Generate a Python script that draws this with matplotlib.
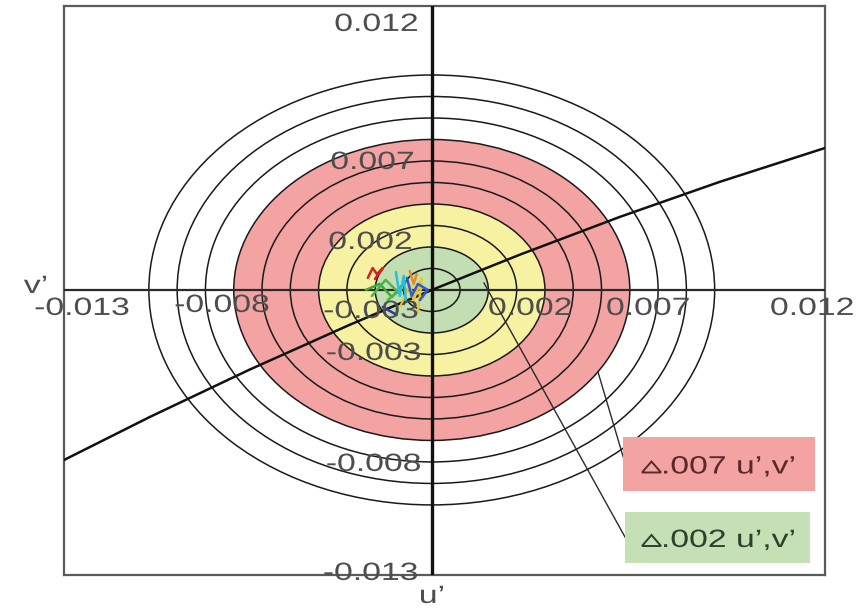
import matplotlib
matplotlib.use("Agg")
import matplotlib.pyplot as plt
from matplotlib.patches import Ellipse, Rectangle, PathPatch, Polygon
from matplotlib.lines import Line2D
from matplotlib.textpath import TextPath
from matplotlib.font_manager import FontProperties
from matplotlib.transforms import Affine2D

# ---- data -------------------------------------------------------------
# tolerance rings, radius in u'v' units
ring_steps = [0.001, 0.002, 0.003, 0.004, 0.005, 0.006, 0.007, 0.008, 0.009, 0.010]
tolerance_red = 0.007
tolerance_yellow = 0.004
tolerance_green = 0.002

# black-body locus through the target point (du', dv')
locus_u = [-0.0130, -0.00997, -0.00643, -0.0029, 0.0, 0.00311, 0.00665, 0.01018, 0.01389]
locus_v = [-0.00791, -0.00591, -0.00370, -0.00162, 0.0, 0.00164, 0.00340, 0.00503, 0.0066]

# measured drift traces (du', dv')
traces = [
    ("#3aa83a", [-0.00233, -0.00184, -0.00141, -0.00095], [0.0, 0.00028, -0.00033, 0.00037]),
    ("#49b84a", [-0.00212, -0.00163, -0.00120, -0.00156], [-0.00028, 0.00047, -0.00009, -0.00047]),
    ("#e8c828", [-0.00110, -0.00078, -0.00064, -0.00035, -0.00049], [-0.00074, 0.00023, -0.00047, 0.00056, -0.00102]),
    ("#26c0dc", [-0.00127, -0.00113, -0.00099, -0.00092], [0.00084, -0.00028, 0.00065, -0.00047]),
    ("#3358d0", [-0.00088, -0.00071, -0.00049, -0.00014, -0.00042], [0.00056, -0.00028, 0.00028, 0.0, -0.00047]),
    ("#e88a20", [-0.00078, -0.00064, -0.00053], [0.00088, 0.00028, 0.00074]),
    ("#2a3aa0", [-0.00173, -0.00124], [-0.00079, -0.00116]),
    ("#d42020", [-0.00226, -0.00209, -0.00194, -0.00173, -0.00201], [0.00056, 0.00102, 0.00074, 0.00102, 0.00051]),
]

x_tick_labels = ["-0.013", "-0.008", "-0.003", "0.002", "0.007", "0.012"]
y_tick_labels = ["0.012", "0.007", "0.002", "-0.003", "-0.008", "-0.013"]
legend_labels = [".007 u\u2019,v\u2019", ".002 u\u2019,v\u2019"]

# ---- layout -----------------------------------------------------------
W, H = 867, 612
fig = plt.figure(figsize=(W / 100, H / 100), dpi=100)
fig.patch.set_facecolor("white")
ax = fig.add_axes([64 / W, 1 - 575 / H, (825 - 64) / W, (575 - 6) / H])
ax.set_xlim(-0.0130, 0.0139)
ax.set_ylim(-0.01326, 0.01321)
ax.set_xticks([])
ax.set_yticks([])
for sp in ax.spines.values():
    sp.set_color("#5a5a5a")
    sp.set_linewidth(1.6)

fill_colors = {tolerance_red: "#f4a3a3", tolerance_yellow: "#f6f2a2", tolerance_green: "#c4deb4"}
for r, c in fill_colors.items():
    ax.add_patch(Ellipse((0, 0), 2 * r, 2 * r, facecolor=c, edgecolor="none", zorder=1))

for r in ring_steps:
    ax.add_patch(Ellipse((0, 0), 2 * r, 2 * r, facecolor="none",
                         edgecolor="#1a1a1a", linewidth=1.1, zorder=2))

# centre axes
ax.axhline(0, color="#2a2a2a", linewidth=1.6, zorder=3)
ax.axvline(0, color="#111111", linewidth=2.4, zorder=3)

# locus
ax.plot(locus_u, locus_v, color="#111111", linewidth=1.8, zorder=4)

# traces
for col, tu, tv in traces:
    ax.plot(tu, tv, color=col, linewidth=1.8, zorder=5,
            solid_capstyle="round", solid_joinstyle="round")

# ---- wide sans text drawn as paths (pixel coordinates, y from top) ----
FP = FontProperties(family="Liberation Sans")


def wide_text(s, px, py, size=25.0, sx=1.35, ha="center", color="#4d4d4d", zorder=6):
    tp = TextPath((0, 0), s, size=size, prop=FP)
    bb = tp.get_extents()
    if ha == "center":
        x0 = px - (bb.x0 + bb.width / 2) * sx
    elif ha == "right":
        x0 = px - bb.x1 * sx
    else:
        x0 = px - bb.x0 * sx
    y0 = H - py - 0.358 * size
    tr = Affine2D().scale(sx, 1.0).translate(x0, y0)
    fig.add_artist(PathPatch(tp, transform=tr, facecolor=color,
                             edgecolor="none", zorder=zorder))


x_label_px = [(82, 306), (222, 303), (371, 309), (530, 306), (648, 306), (812, 306)]
for lab, (px, py) in zip(x_tick_labels, x_label_px):
    wide_text(lab, px, py, ha="center")

y_label_px = [(417, 22), (413, 160), (411, 240), (420, 351), (420, 462), (417, 571)]
for lab, (px, py) in zip(y_tick_labels, y_label_px):
    wide_text(lab, px, py, ha="right")

wide_text("u\u2019", 432, 594, ha="center")
wide_text("v\u2019", 35, 284, ha="center")

# leader lines to the legend boxes
leaders = [((598, 372), (625, 463)), ((484, 283), (625, 537))]
for (x0, y0), (x1, y1) in leaders:
    fig.add_artist(Line2D([x0 / W, x1 / W], [1 - y0 / H, 1 - y1 / H],
                          transform=fig.transFigure, color="#2a2a2a", linewidth=1.0, zorder=7))

boxes = [((623, 437, 815, 491), "#f4a3a3", "#5a2a2a"), ((625, 512, 810, 563), "#c6e0b6", "#2d3f2d")]
for ((x0, y0, x1, y1), fc, tc), lab in zip(boxes, legend_labels):
    fig.add_artist(Rectangle((x0 / W, 1 - y1 / H), (x1 - x0) / W, (y1 - y0) / H,
                             transform=fig.transFigure, facecolor=fc, edgecolor="none", zorder=8))
    cy = (y0 + y1) / 2 + 0.5
    base = cy + 9
    # small delta sign
    tri = [((642) / W, 1 - (base - 1) / H), ((661) / W, 1 - (base - 1) / H), ((651.5) / W, 1 - (base - 12) / H)]
    fig.add_artist(Polygon(tri, closed=True, transform=fig.transFigure, facecolor="none",
                           edgecolor=tc, linewidth=1.4, zorder=9))
    wide_text(lab, 664, cy, ha="left", color=tc, zorder=9)

fig.savefig("out.png", dpi=100)
